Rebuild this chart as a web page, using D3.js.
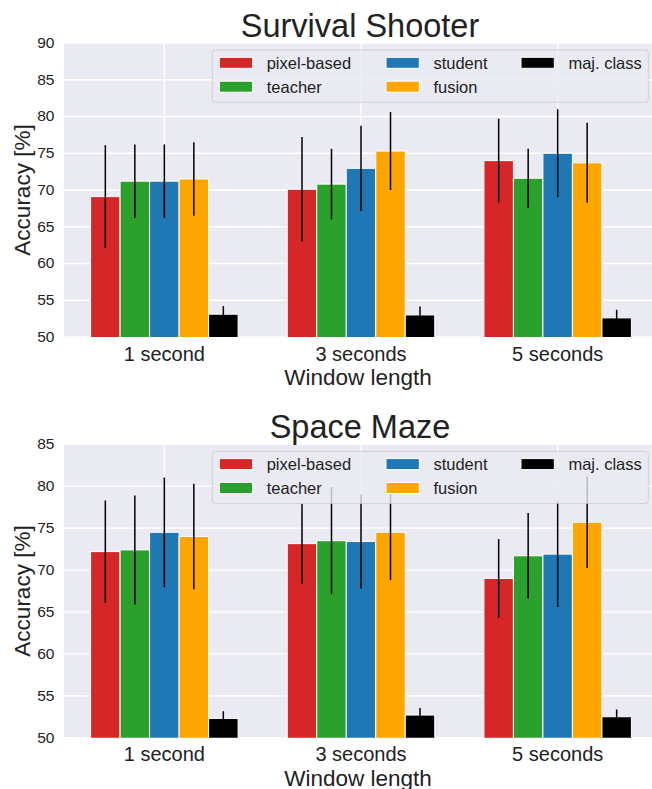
<!DOCTYPE html>
<html>
<head>
<meta charset="utf-8">
<script src="https://cdn.jsdelivr.net/npm/d3@7"></script>
<style>
  body { margin: 0; background: #fff; }
  text { font-family: "Liberation Sans", Arial, sans-serif; fill: #222; }
</style>
</head>
<body>
<svg id="chart" width="652" height="789"></svg>
<script>
/*******************************************************************************************/
// Data

var windows = ['1 second', '3 seconds', '5 seconds'];
var methods = ['pixel-based', 'teacher', 'student', 'fusion', 'maj. class'];
var colors  = ['#d62728', '#2ca02c', '#1f77b4', '#ffa500', '#000000'];

// Survival Shooter: mean accuracy and std per method (rows) and window (cols)
var shooterMean = [
  [69.1, 70.1, 74.0],
  [71.2, 70.8, 71.6],
  [71.2, 72.95, 75.0],
  [71.5, 75.3, 73.7],
  [53.1, 53.0, 52.6]
];
var shooterErr = [
  [7.0, 7.1, 5.7],
  [5.0, 4.8, 4.0],
  [5.0, 5.8, 6.0],
  [5.0, 5.3, 5.45],
  [1.1, 1.15, 1.1]
];

// Space Maze
var mazeMean = [
  [72.2, 73.15, 69.0],
  [72.4, 73.5, 71.7],
  [74.5, 73.4, 71.9],
  [74.0, 74.5, 75.7],
  [52.3, 52.7, 52.5]
];
var mazeErr = [
  [6.1, 4.8, 4.7],
  [6.5, 6.4, 5.1],
  [6.55, 5.6, 6.3],
  [6.3, 5.7, 5.45],
  [0.85, 0.85, 0.85]
];

var shooterTicks = [50, 55, 60, 65, 70, 75, 80, 85, 90];
var mazeTicks = [50, 55, 60, 65, 70, 75, 80, 85];

/*******************************************************************************************/
// Draw one panel

var svg = d3.select('#chart');
var left = 64, right = 652;

function drawPanel(title, means, errs, ticks, top, bottom){
  var g = svg.append('g');
  var xScale = d3.scaleBand().domain(windows).range([66, 656]).padding(0);
  var yScale = d3.scaleLinear().domain([ticks[0], ticks[ticks.length-1]]).range([bottom, top]);
  var bw = xScale.bandwidth() * 0.15;
  var clipId = 'clip' + Math.round(top);

  g.append('clipPath').attr('id', clipId).append('rect')
    .attr('x', left).attr('y', top).attr('width', right-left).attr('height', bottom-top);

  g.append('rect').attr('x', left).attr('y', top).attr('width', right-left).attr('height', bottom-top)
    .style('fill', '#eaeaf2');

  // grid
  g.selectAll('.hgrid').data(ticks).enter().append('line')
    .attr('x1', left).attr('x2', right)
    .attr('y1', function(d){ return yScale(d) }).attr('y2', function(d){ return yScale(d) })
    .style('stroke', '#fff').style('stroke-width', 1.3);
  g.selectAll('.vgrid').data(windows).enter().append('line')
    .attr('x1', function(d){ return xScale(d) + xScale.bandwidth()/2 })
    .attr('x2', function(d){ return xScale(d) + xScale.bandwidth()/2 })
    .attr('y1', top).attr('y2', bottom)
    .style('stroke', '#fff').style('stroke-width', 1.3);

  // bars + error bars
  var plot = g.append('g').attr('clip-path', 'url(#' + clipId + ')');
  methods.forEach(function(m, i){
    var off = (i - 2) * bw;
    var rows = windows.map(function(w, j){ return { w: w, v: means[i][j], e: errs[i][j] } });
    plot.selectAll('.bar' + i).data(rows).enter().append('rect')
      .attr('x', function(d){ return xScale(d.w) + xScale.bandwidth()/2 + off - bw/2 })
      .attr('y', function(d){ return yScale(d.v) })
      .attr('width', bw)
      .attr('height', function(d){ return yScale(ticks[0]) - yScale(d.v) + 2 })
      .style('fill', colors[i]).style('stroke', '#fff').style('stroke-width', 1);
    plot.selectAll('.err' + i).data(rows).enter().append('line')
      .attr('x1', function(d){ return xScale(d.w) + xScale.bandwidth()/2 + off })
      .attr('x2', function(d){ return xScale(d.w) + xScale.bandwidth()/2 + off })
      .attr('y1', function(d){ return yScale(d.v - d.e) })
      .attr('y2', function(d){ return yScale(d.v + d.e) })
      .style('stroke', '#000').style('stroke-width', 1.5);
  });

  // y ticks
  g.selectAll('.ytick').data(ticks).enter().append('text')
    .attr('x', 54.5).attr('y', function(d){ return yScale(d) }).attr('dy', '0.32em')
    .style('text-anchor', 'end').style('font-size', '15.5px').text(function(d){ return d });

  // x ticks
  g.selectAll('.xtick').data(windows).enter().append('text')
    .attr('x', function(d){ return xScale(d) + xScale.bandwidth()/2 }).attr('y', bottom + 23.7)
    .style('text-anchor', 'middle').style('font-size', '20px').text(function(d){ return d });

  // axis labels
  g.append('text').attr('x', (left+right)/2).attr('y', bottom + 48)
    .style('text-anchor', 'middle').style('font-size', '22.5px').text('Window length');
  g.append('text').attr('transform', 'translate(' +29.5+ ',' +((top+bottom)/2)+ ') rotate(-90)')
    .style('text-anchor', 'middle').style('font-size', '22.5px').text('Accuracy [%]');

  // title
  g.append('text').attr('x', 360).attr('y', top - 6.3)
    .style('text-anchor', 'middle').style('font-size', '32.5px').text(title);

  // legend
  var lx = 212.3, ly = top + 7;
  var leg = g.append('g').attr('transform', 'translate(' +lx+ ',' +ly+ ')');
  leg.append('rect').attr('x', 0).attr('y', 0).attr('width', 436).attr('height', 52.3)
    .attr('rx', 3).attr('ry', 3)
    .style('fill', 'rgba(234,234,242,0.8)').style('stroke', 'rgba(204,204,204,0.8)').style('stroke-width', 1);
  var colX = [7, 173.7, 308.7];
  var rowY = [12.8, 36.7];
  methods.forEach(function(m, i){
    var cx = colX[Math.floor(i / 2)], cy = rowY[i % 2];
    leg.append('rect').attr('x', cx).attr('y', cy - 5.5).attr('width', 33.3).attr('height', 11)
      .style('fill', colors[i]).style('stroke', '#fff').style('stroke-width', 1);
    leg.append('text').attr('x', cx + 47.4).attr('y', cy + 6.3)
      .style('font-size', '16.5px').text(m);
  });
}

drawPanel('Survival Shooter', shooterMean, shooterErr, shooterTicks, 43, 337);
drawPanel('Space Maze', mazeMean, mazeErr, mazeTicks, 444.3, 737.7);
</script>
</body>
</html>
